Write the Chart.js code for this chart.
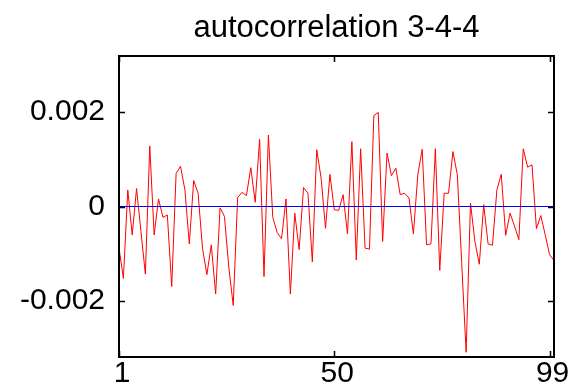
<!DOCTYPE html>
<html>
<head>
<meta charset="utf-8">
<script src="https://cdn.jsdelivr.net/npm/chart.js@4/dist/chart.umd.min.js"></script>
<style>
  html, body { margin: 0; padding: 0; background: #fff; }
  #wrap { width: 578px; height: 390px; }
</style>
</head>
<body>
<div id="wrap"><canvas id="acf"></canvas></div>
<script>
// autocorrelation values, lag 1..100
const acfValues = [
  -0.00088, -0.00152, 0.00035, -0.00060, 0.00038, -0.00053, -0.00143, 0.00128, -0.00060, 0.00016,
  -0.00023, -0.00018, -0.00169, 0.00070, 0.00085, 0.00035, -0.00079, 0.00055, 0.00028, -0.00088,
  -0.00144, -0.00081, -0.00185, -0.00003, -0.00021, -0.00130, -0.00209, 0.00019, 0.00030, 0.00023,
  0.00082, 0.00009, 0.00142, -0.00148, 0.00151, -0.00023, -0.00055, -0.00068, 0.00016, -0.00185,
  -0.00014, -0.00091, 0.00040, 0.00028, -0.00117, 0.00120, 0.00060, -0.00046, 0.00068, -0.00007,
  -0.00008, 0.00025, -0.00058, 0.00137, -0.00113, 0.00122, -0.00088, -0.00090, 0.00192, 0.00199,
  -0.00074, 0.00113, 0.00065, 0.00081, 0.00025, 0.00028, 0.00018, -0.00058, 0.00067, 0.00121,
  -0.00081, -0.00079, 0.00122, -0.00135, 0.00028, 0.00028, 0.00116, 0.00067, -0.00120, -0.00308,
  0.00007, -0.00074, -0.00122, 0.00004, -0.00079, -0.00082, 0.00035, 0.00068, -0.00061, -0.00014,
  -0.00041, -0.00070, 0.00122, 0.00083, 0.00088, -0.00047, -0.00019, -0.00060, -0.00102, -0.00114
];
const lags = acfValues.map((v, i) => i + 1);
const zeroLine = [{ x: 1, y: 0 }, { x: 100, y: 0 }];
const xTicks = [1, 50, 99];
const yTicks = [-0.002, 0, 0.002];
const yTickLabels = ['-0.002', '0', '0.002'];
const titleText = 'autocorrelation 3-4-4';

const FONT = '"Liberation Sans", Arial, sans-serif';

// frame, inward ticks and title
const framePlugin = {
  id: 'frame',
  afterDatasetsDraw(chart) {
    const { ctx, chartArea: a, scales } = chart;
    ctx.save();
    ctx.strokeStyle = '#000';
    ctx.lineWidth = 1.5;
    ctx.beginPath();
    xTicks.forEach(function (t) {
      const px = Math.round(scales.x.getPixelForValue(t)) + 0.5;
      ctx.moveTo(px, a.bottom); ctx.lineTo(px, a.bottom - 6);
      ctx.moveTo(px, a.top); ctx.lineTo(px, a.top + 6);
    });
    yTicks.forEach(function (t) {
      const py = Math.round(scales.y.getPixelForValue(t)) + 0.5;
      ctx.moveTo(a.left, py); ctx.lineTo(a.left + 6, py);
      ctx.moveTo(a.right, py); ctx.lineTo(a.right - 6, py);
    });
    ctx.stroke();
    ctx.lineWidth = 2;
    ctx.strokeRect(a.left, a.top, a.right - a.left, a.bottom - a.top);

    ctx.fillStyle = '#000';
    ctx.font = '31px ' + FONT;
    ctx.textAlign = 'center';
    ctx.textBaseline = 'alphabetic';
    ctx.fillText(titleText, (a.left + a.right) / 2, 37);
    ctx.restore();
  }
};

new Chart(document.getElementById('acf'), {
  type: 'line',
  data: {
    datasets: [{
      data: zeroLine,
      borderColor: '#0000ff',
      borderWidth: 1,
      pointRadius: 0
    }, {
      data: acfValues.map((v, i) => ({ x: lags[i], y: v })),
      borderColor: '#ff0000',
      borderWidth: 1,
      pointRadius: 0,
      tension: 0
    }]
  },
  options: {
    responsive: true,
    maintainAspectRatio: false,
    animation: false,
    layout: { padding: { top: 56, right: 24, bottom: 0, left: 0 } },
    plugins: {
      legend: { display: false },
      tooltip: { enabled: false },
      title: { display: false }
    },
    scales: {
      x: {
        type: 'linear',
        min: 1,
        max: 100,
        afterBuildTicks: function (scale) { scale.ticks = xTicks.map(v => ({ value: v })); },
        afterFit: function (scale) { scale.height = 33; },
        grid: { display: false },
        border: { display: false },
        ticks: {
          color: '#000',
          font: { family: FONT, size: 30 },
          padding: -9,
          labelOffset: 3,
          maxRotation: 0,
          autoSkip: false,
          callback: function (v) { return String(v); }
        }
      },
      y: {
        type: 'linear',
        min: -0.00318,
        max: 0.00318,
        afterBuildTicks: function (scale) { scale.ticks = yTicks.map(v => ({ value: v })); },
        afterFit: function (scale) { scale.width = 119; },
        grid: { display: false },
        border: { display: false },
        ticks: {
          color: '#000',
          font: { family: FONT, size: 30 },
          padding: 6,
          callback: function (v) { return yTickLabels[yTicks.indexOf(v)]; }
        }
      }
    }
  },
  plugins: [framePlugin]
});
</script>
</body>
</html>
